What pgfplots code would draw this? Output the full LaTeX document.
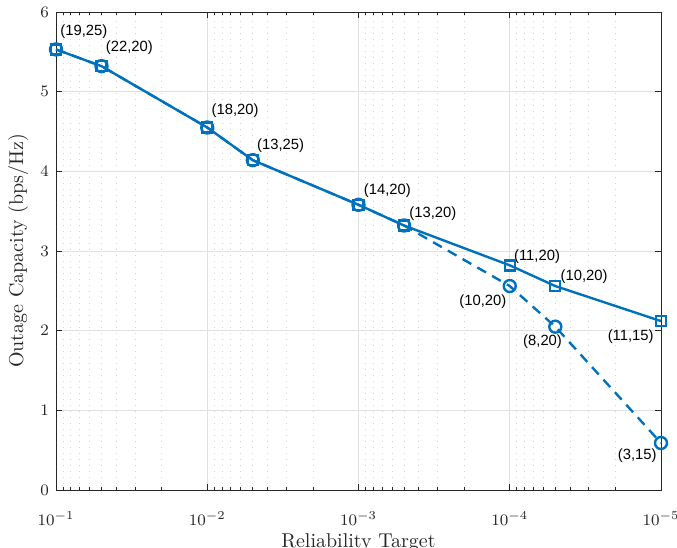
\documentclass[border=0pt]{standalone}
\usepackage{pgfplots}
\pgfplotsset{compat=1.18}
\usepackage{fontspec}
\newfontfamily\labelfont{Liberation Sans}
\usetikzlibrary{calc}
\definecolor{mblue}{rgb}{0,0.447,0.741}
\definecolor{axgray}{rgb}{0.15,0.15,0.15}
\begin{document}
\begin{tikzpicture}
\begin{axis}[
  scale only axis, width=302.5pt, height=239pt,
  xmode=log, x dir=reverse, xmin=1e-5, xmax=0.1,
  ymin=0, ymax=6, ytick={0,1,2,3,4,5,6},
  xtick={1e-5,1e-4,1e-3,1e-2,1e-1},
  xmajorgrids=true, xminorgrids=true, ymajorgrids=true,
  major grid style={black!12, line width=0.4pt},
  minor grid style={black!17, dash pattern=on 0.5pt off 2.5pt, line width=0.4pt},
  axis line style={axgray, line width=0.4pt},
  tick style={axgray, line width=0.4pt},
  major tick length=3pt, minor tick length=1.6pt,
  ticklabel style={font=\fontsize{8.5}{10}\selectfont, text=axgray},
  xticklabel style={yshift=-7.5pt},
  clip=false,
]
\coordinate (sw) at (axis description cs:0,0);
\coordinate (ne) at (axis description cs:1,1);
\addplot[mblue, line width=1.2pt, dash pattern=on 5pt off 3.5pt, mark=o, mark size=3pt, mark options={solid, line width=1.2pt}]
 coordinates {(0.1,5.53)(0.05,5.32)(0.01,4.55)(0.005,4.14)(0.001,3.58)(0.0005,3.32)(0.0001,2.56)(0.00005,2.05)(0.00001,0.59)};
\addplot[mblue, solid, line width=1.2pt, mark=square, mark size=2.5pt, mark options={solid, line width=1.2pt}]
 coordinates {(0.1,5.53)(0.05,5.32)(0.01,4.55)(0.005,4.14)(0.001,3.58)(0.0005,3.32)(0.0001,2.82)(0.00005,2.56)(0.00001,2.12)};
\begin{scope}[every node/.style={font=\labelfont\fontsize{7.4}{9}\selectfont, inner sep=0pt, text=black}]
\node[anchor=west, xshift=2pt, yshift=9pt] at (axis cs:0.1,5.53) {(19,25)};
\node[anchor=west, xshift=2pt, yshift=9pt] at (axis cs:0.05,5.32) {(22,20)};
\node[anchor=west, xshift=2pt, yshift=8.5pt] at (axis cs:0.01,4.55) {(18,20)};
\node[anchor=west, xshift=2pt, yshift=7pt] at (axis cs:0.005,4.14) {(13,25)};
\node[anchor=west, xshift=2.5pt, yshift=7pt] at (axis cs:0.001,3.58) {(14,20)};
\node[anchor=west, xshift=2.5pt, yshift=6pt] at (axis cs:0.0005,3.32) {(13,20)};
\node[anchor=west, xshift=2pt, yshift=4.5pt] at (axis cs:0.0001,2.82) {(11,20)};
\node[anchor=west, xshift=2.5pt, yshift=4.5pt] at (axis cs:0.00005,2.56) {(10,20)};
\node[anchor=east, xshift=-3.5pt, yshift=-8pt] at (axis cs:0.00001,2.12) {(11,15)};
\node[anchor=east, xshift=-1.5pt, yshift=-8pt] at (axis cs:0.0001,2.56) {(10,20)};
\node[anchor=east, xshift=3.5pt, yshift=-7.5pt] at (axis cs:0.00005,2.05) {(8,20)};
\node[anchor=east, xshift=-2pt, yshift=-6.5pt] at (axis cs:0.00001,0.59) {(3,15)};
\end{scope}
\end{axis}
\node[anchor=north, inner sep=0pt, font=\fontsize{10}{12}\selectfont, text=axgray] at ($(sw)!0.5!(sw-|ne)+(0,-21.5pt)$) {Reliability Target};
\node[rotate=90, inner sep=0pt, font=\fontsize{10}{12}\selectfont, text=axgray] at ($(sw)!0.5!(sw|-ne)+(-19pt,0)$) {Outage Capacity (bps/Hz)};
\pgfresetboundingbox
\path ($(sw)+(-28pt,-29pt)$) rectangle ($(ne)+(8pt,6pt)$);
\end{tikzpicture}
\end{document}
